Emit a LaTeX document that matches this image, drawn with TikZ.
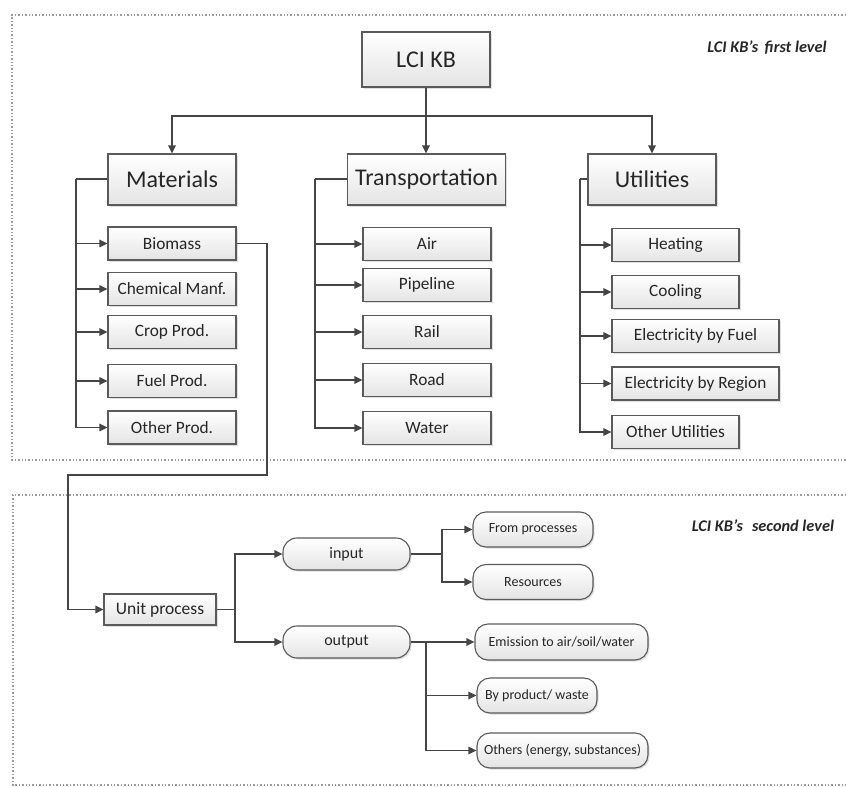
\documentclass[tikz,border=0pt]{standalone}
\usepackage{fontspec}
\setmainfont{Carlito}
\usetikzlibrary{arrows.meta,shadows,positioning}
\definecolor{linec}{HTML}{454545}
\definecolor{boxb}{HTML}{5A5A5A}
\definecolor{boxbot}{HTML}{E4E4E4}
\definecolor{framec}{HTML}{9A9A9A}
\tikzset{
  bx/.style={draw=boxb, line width=1.1pt, top color=white, bottom color=boxbot,
    drop shadow={shadow xshift=1.5pt, shadow yshift=-1.5pt, opacity=0.25, fill=gray},
    inner sep=1pt, text=black!85},
  bigbox/.style={bx, minimum height=51pt, font=\fontsize{24}{28}\selectfont},
  smallbox/.style={bx, minimum height=33pt, font=\fontsize{17.3}{20}\selectfont},
  pill/.style={bx, rounded corners=13pt, minimum height=33pt, font=\fontsize{14}{17}\selectfont},
  ln/.style={draw=linec, line width=1.3pt},
  ar/.style={ln, -{Triangle[length=8pt,width=7.5pt]}},
  frame/.style={draw=framec, line width=1.4pt, dotted},
  lvl/.style={font=\fontsize{16.3}{19}\selectfont\bfseries\itshape, text=black!85}
}
\begin{document}
\begin{tikzpicture}[x=1pt,y=-1pt]
\useasboundingbox (0,0) rectangle (846,787);
% frames
\draw[frame] (846,15) -- (12,15) -- (12,460) -- (846,460);
\draw[frame] (846,495) -- (13,495) -- (13,785) -- (846,785);
\node[lvl] (lab1) at (767,48) {LCI KB's\, first level};
\node[lvl] (lab2) at (763,526) {LCI KB's\,\, second level};
% first level
\node[bigbox, minimum width=128pt, minimum height=55pt] (lci) at (426,59.5) {LCI KB};
\node[bigbox, minimum width=128pt] (mat) at (172,179.5) {Materials};
\node[bigbox, minimum width=158pt] (tra) at (426.5,179.5) {Transportation};
\node[bigbox, minimum width=128pt] (uti) at (652,179.5) {Utilities};
\coordinate (hb) at (426,116);
\draw[ln] (lci.south) -- (hb);
\draw[ar] (hb) -| (mat.north);
\draw[ar] (hb) -- (hb |- tra.north);
\draw[ar] (hb) -| (uti.north);
% materials
\node[smallbox, minimum width=128pt] (bio) at (172,243.5) {Biomass};
\node[smallbox, minimum width=128pt] (che) at (172,289) {Chemical Manf.};
\node[smallbox, minimum width=128pt] (cro) at (172,332) {Crop Prod.};
\node[smallbox, minimum width=128pt] (fue) at (172,381) {Fuel Prod.};
\node[smallbox, minimum width=128pt] (oth) at (172,427.5) {Other Prod.};
\coordinate (mv) at (76,179);
\draw[ln] (mat.west |- mv) -- (mv);
\draw[ar] (mv) |- (oth.west);
\foreach \n in {bio,che,cro,fue} \draw[ar] (mv |- \n.west) -- (\n.west);
% transportation
\node[smallbox, minimum width=128pt] (air) at (427,244) {Air};
\node[smallbox, minimum width=128pt] (pip) at (427,285) {Pipeline};
\node[smallbox, minimum width=128pt] (rai) at (427,332) {Rail};
\node[smallbox, minimum width=128pt] (roa) at (427,380) {Road};
\node[smallbox, minimum width=128pt] (wat) at (427,428) {Water};
\coordinate (tv) at (315,179);
\draw[ln] (tra.west |- tv) -- (tv);
\draw[ar] (tv) |- (wat.west);
\foreach \n in {air,pip,rai,roa} \draw[ar] (tv |- \n.west) -- (\n.west);
% utilities
\node[smallbox, minimum width=127pt] (hea) at (675.5,245) {Heating};
\node[smallbox, minimum width=127pt] (coo) at (675.5,292) {Cooling};
\node[smallbox, minimum width=167pt] (ebf) at (695.5,336) {Electricity by Fuel};
\node[smallbox, minimum width=167pt] (ebr) at (695.5,383.5) {Electricity by Region};
\node[smallbox, minimum width=127pt] (otu) at (675.5,432) {Other Utilities};
\coordinate (uv) at (580,179);
\draw[ln] (uti.west |- uv) -- (uv);
\draw[ar] (uv) |- (otu.west);
\foreach \n in {hea,coo,ebf,ebr} \draw[ar] (uv |- \n.west) -- (\n.west);
% second level
\node[smallbox, minimum width=112pt, minimum height=31pt, font=\fontsize{17.5}{20}\selectfont] (unit) at (160,609.5) {Unit process};
\coordinate (c1) at (267,475);
\coordinate (c2) at (68,475);
\draw[ar] (bio.east) -| (c1) -- (c2) |- (unit.west);
\node[pill, minimum width=127pt, minimum height=32pt, rounded corners=14pt, font=\fontsize{16}{19}\selectfont] (inp) at (346.5,554) {input};
\node[pill, minimum width=127pt, minimum height=32pt, rounded corners=14pt, font=\fontsize{16}{19}\selectfont] (out) at (346.5,642) {output};
\coordinate (uv2) at (235,609.5);
\draw[ln] (unit.east) -- (uv2);
\draw[ar] (uv2) |- (inp.west);
\draw[ar] (uv2) |- (out.west);
\node[pill, minimum width=120pt, minimum height=35pt] (frp) at (533,529.5) {From processes};
\node[pill, minimum width=120pt, minimum height=35pt] (res) at (533,582) {Resources};
\coordinate (iv) at (442,554);
\draw[ln] (inp.east) -- (iv);
\draw[ar] (iv) |- (frp.west);
\draw[ar] (iv) |- (res.west);
\node[pill, minimum width=173pt, minimum height=36pt] (emi) at (561.5,642) {Emission to air/soil/water};
\node[pill, minimum width=120pt, minimum height=35pt] (byp) at (537,695.5) {By product/ waste};
\node[pill, minimum width=171pt, minimum height=35pt] (oen) at (562.5,750.5) {Others (energy, substances)};
\coordinate (ov) at (426,642);
\draw[ar] (out.east) -- (emi.west);
\draw[ar] (ov) |- (byp.west);
\draw[ar] (ov) |- (oen.west);
\end{tikzpicture}
\end{document}
